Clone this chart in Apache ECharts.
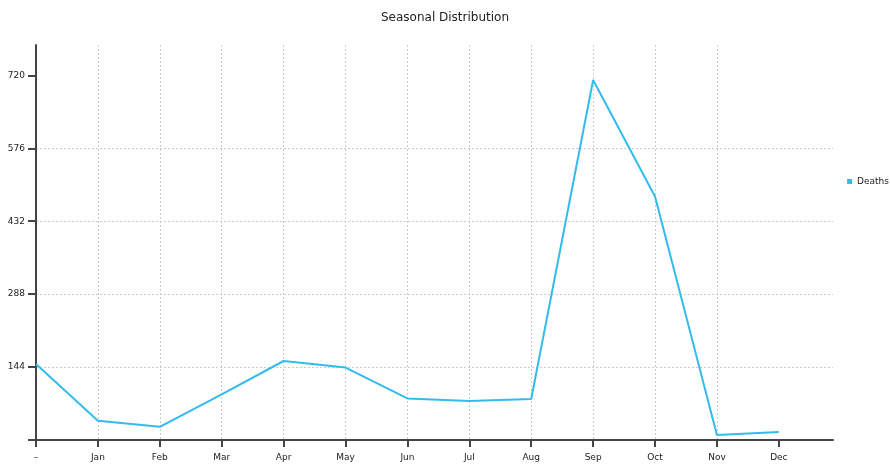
<!DOCTYPE html>
<html><head><meta charset="utf-8">
<script src="https://cdn.jsdelivr.net/npm/echarts@6/dist/echarts.min.js"></script>
<style>html,body{margin:0;padding:0;background:#fff}#c{width:890px;height:466px}</style>
</head><body><div id="c"></div>
<script>
const categories = ['–','Jan','Feb','Mar','Apr','May','Jun','Jul','Aug','Sep','Oct','Nov','Dec'];
const deaths = [150, 38, 26, 90, 156, 143, 82, 77, 81, 711, 481, 10, 16];
const yTicks = [0, 144, 288, 432, 576, 720];

const chart = echarts.init(document.getElementById('c'));
const font = 'DejaVu Sans';
chart.setOption({
  animation: false,
  title: { text: 'Seasonal Distribution', left: 'center', top: 7,
    textStyle: { fontFamily: font, fontSize: 12, fontWeight: 'normal', color: '#222' } },
  legend: { orient: 'vertical', right: -4, top: 172, itemWidth: 5, itemHeight: 5, itemGap: 4,
    icon: 'rect', textStyle: { fontFamily: font, fontSize: 9, color: '#222' }, data: ['Deaths'] },
  grid: { left: 36, top: 45, right: 57, bottom: 26 },
  xAxis: {
    type: 'value', min: 0, max: 12.875, interval: 1,
    axisLine: { lineStyle: { color: '#444', width: 2 } },
    axisTick: { length: 7, lineStyle: { color: '#444', width: 2 }, customValues: categories.map((c, i) => i) },
    axisLabel: { customValues: categories.map((c, i) => i), formatter: v => categories[v] ?? '',
      fontFamily: font, fontSize: 9, color: '#222', margin: 13 },
    splitLine: { show: true, showMaxLine: false, lineStyle: { type: [2, 2], color: '#ccc' } }
  },
  yAxis: {
    type: 'value', min: 0, max: 780, interval: 144,
    axisLine: { show: true, lineStyle: { color: '#444', width: 2 } },
    axisTick: { show: true, length: 8, lineStyle: { color: '#444', width: 2 }, customValues: yTicks },
    axisLabel: { customValues: yTicks, formatter: v => v === 0 ? '' : String(v),
      fontFamily: font, fontSize: 9, color: '#222', margin: 11 },
    splitLine: { show: true, showMaxLine: false, lineStyle: { type: [2, 2], color: '#ccc' } }
  },
  series: [{
    name: 'Deaths', type: 'line', showSymbol: false, symbol: 'none',
    itemStyle: { color: '#33bbee' },
    lineStyle: { color: '#33bbee', width: 2 },
    data: deaths.map((v, i) => [i, v])
  }]
});
</script></body></html>
